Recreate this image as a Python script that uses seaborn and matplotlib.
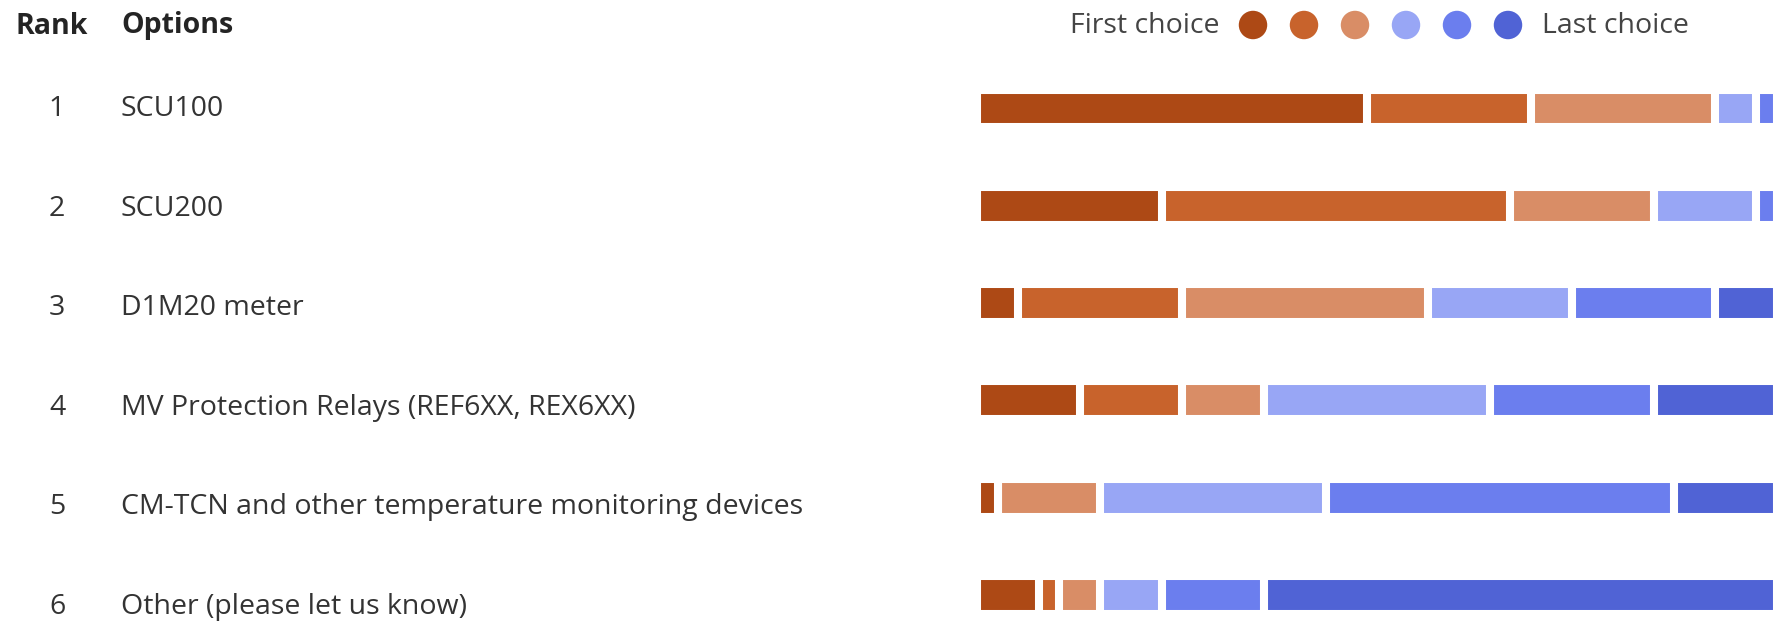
import matplotlib
matplotlib.use('Agg')
import matplotlib.pyplot as plt
import seaborn as sns
import numpy as np
import pandas as pd

sns.set_style('white')
plt.rcParams['font.family'] = ['Open Sans', 'DejaVu Sans']

# ranking data: number of respondents choosing each option at each rank (1st .. 6th)
ranks = [1, 2, 3, 4, 5, 6]
options = ['SCU100', 'SCU200', 'D1M20 meter', 'MV Protection Relays (REF6XX, REX6XX)',
           'CM-TCN and other temperature monitoring devices', 'Other (please let us know)']
choice_labels = ['1st', '2nd', '3rd', '4th', '5th', '6th']
counts = [
    [19, 8, 9, 2, 1, 0],
    [9, 17, 7, 5, 1, 0],
    [2, 8, 12, 7, 7, 3],
    [5, 5, 4, 11, 8, 6],
    [1, 0, 5, 11, 17, 5],
    [3, 1, 2, 3, 5, 25],
]
colors = ['#AD4915', '#C8632C', '#D98D66', '#98A6F5', '#6B7EEE', '#5063D5']

W, H = 1775, 624
fig = plt.figure(figsize=(W / 100, H / 100), dpi=100)

# bar area in pixels
x0_px, x1_px = 977, 1777
row_top, row_step = 108.5, 97.3
pad = 0.3
ax_top = row_top - pad * row_step
ax_bot = row_top + (5 + pad) * row_step
ax = fig.add_axes([x0_px / W, 1 - ax_bot / H, (x1_px - x0_px) / W, (ax_bot - ax_top) / H])

df = pd.DataFrame(counts, index=options, columns=choice_labels)
cum = df.cumsum(axis=1)
total = df.sum(axis=1).max()

# stacked bars: draw cumulative totals from last to first
for i in range(len(choice_labels) - 1, -1, -1):
    sns.barplot(x=cum.iloc[:, i].values, y=options, orient='h', color=colors[i],
                width=0.39, edgecolor='white', linewidth=5.8, saturation=1, ax=ax)

ax.set_xlim(0, total)
ax.set_ylim(5 + pad, -pad)
ax.axis('off')

# left columns
txt_color = '#333333'
fs = 20.5
fig.text(15 / W, 1 - 26 / H, 'Rank', fontsize=fs, fontweight='bold', color='#242424', va='center')
fig.text(121 / W, 1 - 26 / H, 'Options', fontsize=fs, fontweight='bold', color='#242424', va='center')
for i, (r, opt) in enumerate(zip(ranks, options)):
    y = 1 - (109 + 99.6 * i) / H
    fig.text(57 / W, y, str(r), fontsize=fs, color=txt_color, va='center', ha='center')
    fig.text(121 / W, y, opt, fontsize=fs, color=txt_color, va='center')

# legend
fig.text(1070 / W, 1 - 26 / H, 'First choice', fontsize=fs, color='#444444', va='center')
fig.text(1542 / W, 1 - 26 / H, 'Last choice', fontsize=fs, color='#444444', va='center')
lax = fig.add_axes([1230 / W, 1 - 50 / H, 300 / W, 50 / H])
lax.scatter([1253, 1304, 1355, 1406, 1457, 1508], [25] * 6, s=420, c=colors, linewidths=0)
lax.set_xlim(1230, 1530)
lax.set_ylim(50, 0)
lax.axis('off')

fig.savefig('out.png', dpi=100)
